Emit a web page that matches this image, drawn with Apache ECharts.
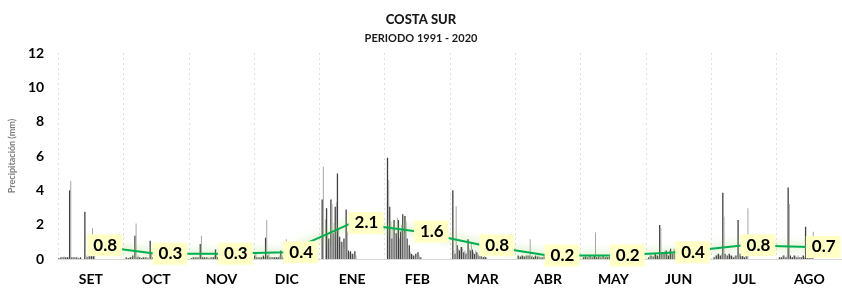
<!DOCTYPE html>
<html>
<head>
<meta charset="utf-8">
<script src="https://cdn.jsdelivr.net/npm/echarts@6/dist/echarts.min.js"></script>
<style>
html,body{margin:0;padding:0;background:#fff;}
#c{width:842px;height:289px;}
</style>
</head>
<body>
<div id="c"></div>
<script>
const months = ['SET','OCT','NOV','DIC','ENE','FEB','MAR','ABR','MAY','JUN','JUL','AGO'];
const monthlyMean = [0.8,0.3,0.3,0.4,2.1,1.6,0.8,0.2,0.2,0.4,0.8,0.7];
const yTicks = [0,2,4,6,8,10,12];

// daily bars (first 17 slots of each month), dark series
const darkSET = [0.05,0.1,0.1,0.1,0.1,4.0,0.1,0.1,0.1,0.05,0.1,0,2.75,0.1,0.7,0.9,0.2];
const darkOCT = [0,0.1,0.05,0.1,0.2,1.35,0.1,0.1,0.05,0.1,0.1,0.05,1.06,0.1,0.2,0.3,0.1];
const darkNOV = [0,0.05,0.1,0.1,0.1,0.87,0.1,0.1,0.1,0.05,0.1,0.1,0.56,0.1,0.1,0.2,0.3];
const darkDIC = [0.2,0.1,0.1,0.1,0.2,1.24,0.2,0.1,0.1,0.1,0.1,0.1,0.5,0.1,0.2,0.3,0.1];
const darkENE = [0,3.47,0,2.96,1.2,3.47,1.5,3.04,4.98,1.3,1.0,1.2,2.89,0.5,0.45,0.3,0.45];
const darkFEB = [0,5.9,3.04,1.2,2.27,1.5,2.27,1.6,2.6,2.5,1.2,0.8,0.3,0.2,0.3,0.4,0.1];
const darkMAR = [0,4.0,0.3,0.8,0.5,0.7,0.4,0.3,1.15,0.5,0.55,0.3,0.4,0.2,0.2,0.1,0.1];
const darkABR = [0,0.2,0.15,0.2,0.15,0.2,0.2,0.15,0.1,0.2,0.15,0.1,0.1,0.15,0.1,0,0];
const darkMAY = [0,0.1,0.15,0.1,0.2,0.1,0.2,0.1,0.15,0.1,0.2,0.1,0.1,0.15,0.1,0.6,0.1];
const darkJUN = [0,0.1,0.2,0.15,0.3,0.2,1.98,0.3,0.4,0.5,0.2,0.6,0.3,0.5,0.2,0.4,0.1];
const darkJUL = [0,0.1,0.2,0.3,0.2,3.86,0.3,0.2,0.3,0.2,0.1,0.2,2.27,0.3,0.2,0.1,0.2];
const darkAGO = [0,0.1,0.1,0.2,0.1,4.17,0.2,0.1,0.2,0.1,0.1,0.1,0.2,1.88,0.1,0.1,0.2];

// light series
const lightSET = [0,0.1,0.15,0.1,0.1,4.55,0.1,0.05,0.1,0.05,0,0,0.2,0.3,0.8,1.8,0.4];
const lightOCT = [0,0.05,0.1,0.1,0.1,2.07,0.2,0.1,0.1,0.05,0.1,0.1,0.3,0.1,0.5,0.4,0.2];
const lightNOV = [0,0.1,0.05,0.1,0.1,1.36,0.1,0.05,0.1,0.1,0.1,0.2,0.3,0.1,0.2,0.6,0.2];
const lightDIC = [0.3,0.1,0.1,0.1,0.1,2.27,0.3,0.1,0.1,0.1,0.1,0.2,0.2,0.1,1.15,0.2,0.1];
const lightENE = [0,5.37,2.3,1.5,0.8,3.2,2.1,3.3,1.8,1.0,0.7,0.6,1.6,0.4,0.3,0.2,0.2];
const lightFEB = [0,4.6,2.2,1.8,1.4,2.4,1.2,2.0,1.5,2.2,0.6,0.4,0.25,0.1,0.2,0.2,0.1];
const lightMAR = [0,0.5,3.08,0.6,0.7,0.6,0.5,0.4,0.6,0.9,0.4,0.5,0.3,0.2,0.1,0.2,0.1];
const lightABR = [0,0.1,0.2,0.15,0.2,0.1,1.15,0.2,0.15,0.1,0.2,0.1,0.15,0.1,0.1,0,0];
const lightMAY = [0,0.15,0.1,0.2,0.1,0.15,1.55,0.1,0.2,0.1,0.1,0.15,0.1,0.1,0.2,0.3,0.1];
const lightJUN = [0,0.2,0.1,0.3,0.2,0.1,1.8,0.4,0.5,0.3,0.5,0.3,0.6,0.3,0.4,0.2,0.1];
const lightJUL = [0,0.2,0.3,0.2,0.3,2.46,0.2,0.3,0.2,0.1,0.2,0.1,0.3,0.4,0.3,0.5,2.95];
const lightAGO = [0,0.1,0.2,0.1,0.2,3.2,0.1,0.2,0.1,0.2,0.1,0.2,0.1,0.2,0.3,0.2,1.59];

const darkMonths = [darkSET,darkOCT,darkNOV,darkDIC,darkENE,darkFEB,darkMAR,darkABR,darkMAY,darkJUN,darkJUL,darkAGO];
const lightMonths = [lightSET,lightOCT,lightNOV,lightDIC,lightENE,lightFEB,lightMAR,lightABR,lightMAY,lightJUN,lightJUL,lightAGO];

const SLOTS = 30;
const slotCats = [], darkData = [], lightData = [];
for (let m = 0; m < 12; m++) {
  for (let s = 0; s < SLOTS; s++) {
    slotCats.push(months[m] + '-' + s);
    darkData.push(s < darkMonths[m].length ? darkMonths[m][s] : null);
    lightData.push(s < lightMonths[m].length ? lightMonths[m][s] : null);
  }
}

const FONT = 'Lato';
const chart = echarts.init(document.getElementById('c'), null, {renderer: 'canvas'});
chart.setOption({
  animation: false,
  backgroundColor: '#ffffff',
  title: {
    text: 'COSTA SUR',
    subtext: 'PERIODO 1991 - 2020',
    left: 'center',
    top: 8,
    itemGap: 7,
    textStyle: {fontFamily: FONT, fontWeight: 900, fontSize: 13, color: '#1a1a1a'},
    subtextStyle: {fontFamily: FONT, fontWeight: 'bold', fontSize: 11, color: '#1a1a1a'}
  },
  grid: {left: 55, right: 0, top: 53, bottom: 30, containLabel: false},
  xAxis: [
    {
      type: 'category',
      data: slotCats,
      show: false,
      boundaryGap: true,
      position: 'bottom'
    },
    {
      type: 'category',
      data: months,
      position: 'bottom',
      boundaryGap: true,
      axisLine: {show: true, lineStyle: {color: '#d9d9d9', width: 1}},
      axisTick: {show: false},
      splitLine: {show: true, lineStyle: {color: '#dedede', type: [2, 3], width: 1}},
      axisLabel: {fontFamily: FONT, fontWeight: 'bold', fontSize: 14, color: '#000', margin: 13}
    }
  ],
  yAxis: {
    type: 'value',
    min: yTicks[0],
    max: yTicks[yTicks.length - 1],
    interval: 2,
    name: 'Precipitación (mm)',
    nameLocation: 'middle',
    nameGap: 40,
    nameTextStyle: {fontFamily: FONT, fontSize: 9, fontWeight: 'bold', color: '#808080'},
    axisLine: {show: false},
    axisTick: {show: false},
    splitLine: {show: false},
    axisLabel: {fontFamily: FONT, fontWeight: 'bold', fontSize: 14, color: '#000', margin: 14}
  },
  series: [
    {
      name: 'dark',
      type: 'bar',
      xAxisIndex: 0,
      data: darkData,
      barWidth: 1.3,
      barGap: '0%',
      itemStyle: {color: '#404040'},
      z: 2
    },
    {
      name: 'light',
      type: 'bar',
      xAxisIndex: 0,
      data: lightData,
      barWidth: 1,
      itemStyle: {color: '#a6a6a6'},
      z: 2
    },
    {
      name: 'mean',
      type: 'line',
      xAxisIndex: 1,
      data: monthlyMean,
      symbol: 'circle',
      symbolSize: 1,
      itemStyle: {color: '#00b050'},
      lineStyle: {color: '#00b050', width: 2, shadowColor: 'rgba(146,208,80,1)', shadowBlur: 10},
      z: 5,
      label: {
        show: true,
        position: 'right',
        distance: 0,
        offset: [-4, 0],
        formatter: p => p.value.toFixed(1),
        fontFamily: FONT,
        fontWeight: 'bold',
        fontSize: 17,
        color: '#000',
        backgroundColor: '#ffffc6',
        padding: [3, 5, 2, 6]
      }
    }
  ]
});
</script>
</body>
</html>
